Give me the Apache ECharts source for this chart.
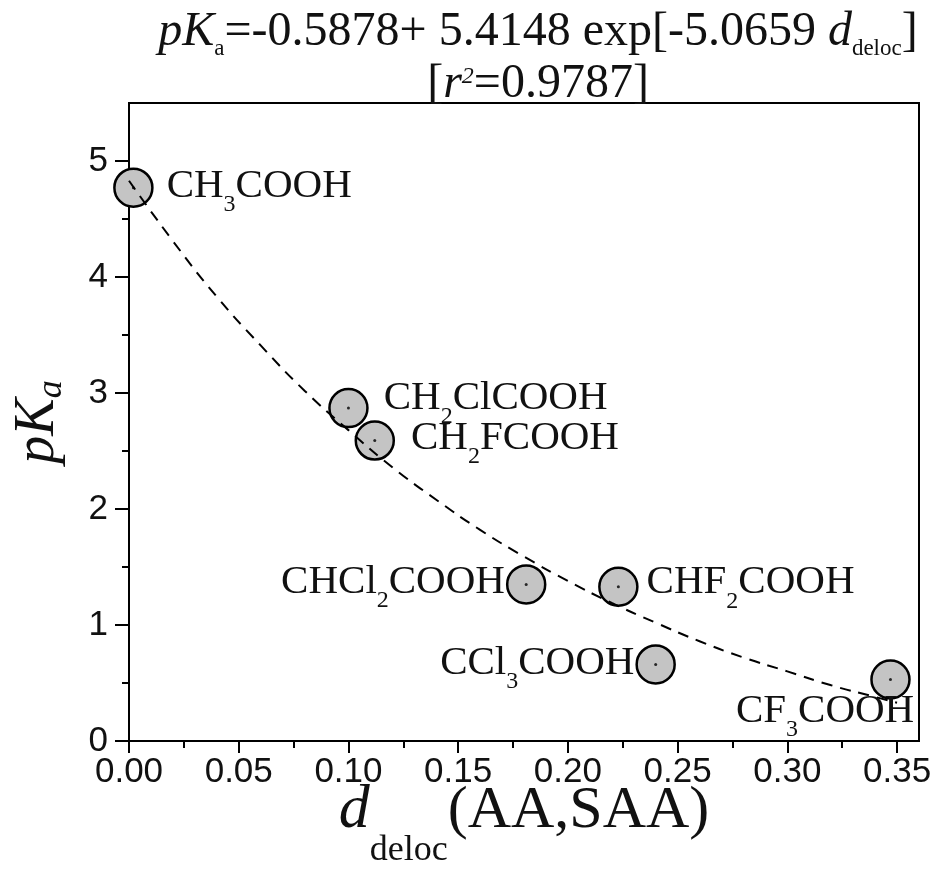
<!DOCTYPE html>
<html><head><meta charset="utf-8">
<script src="https://cdn.jsdelivr.net/npm/echarts@6/dist/echarts.min.js"></script>
<style>html,body{margin:0;padding:0;background:#fff}#c{width:937px;height:869px}</style>
</head><body><div id="c"></div>
<script>
// ---- data ----
const acids = ['CH3COOH','CH2ClCOOH','CH2FCOOH','CHCl2COOH','CHF2COOH','CCl3COOH','CF3COOH'];
const dDeloc = [0.002, 0.100, 0.112, 0.181, 0.223, 0.240, 0.347];
const pKaVals = [4.77, 2.87, 2.59, 1.35, 1.33, 0.66, 0.53];
// dashed fit curve
const fitX = [0, 0.02, 0.04, 0.06, 0.08, 0.10, 0.12, 0.14, 0.16, 0.18, 0.20, 0.22, 0.24, 0.26, 0.28, 0.30, 0.32, 0.34, 0.35];
const fitY = [4.83, 4.31, 3.83, 3.41, 3.02, 2.68, 2.36, 2.08, 1.82, 1.59, 1.38, 1.19, 1.02, 0.86, 0.72, 0.60, 0.48, 0.38, 0.33];
const xMajorTicks = [0, 0.05, 0.10, 0.15, 0.20, 0.25, 0.30, 0.35];
const xMinorTicks = [0.025, 0.075, 0.125, 0.175, 0.225, 0.275, 0.325];
const yMajorTicks = [0, 1, 2, 3, 4, 5];
const yMinorTicks = [0.5, 1.5, 2.5, 3.5, 4.5];

// ---- label placement (style, not data) ----
const labelPlace = {
  'CH3COOH':   {position: 'right', distance: 13, offset: [0, -1]},
  'CH2ClCOOH': {position: 'right', distance: 15, offset: [0, -10]},
  'CH2FCOOH':  {position: 'right', distance: 16, offset: [0, -2]},
  'CHCl2COOH': {position: 'left',  distance: 1,  offset: [0, -2]},
  'CHF2COOH':  {position: 'right', distance: 8,  offset: [0, -4]},
  'CCl3COOH':  {position: 'left',  distance: 1,  offset: [0, -1]},
  'CF3COOH':   {position: [44, 52], align: 'right', verticalAlign: 'middle'}
};

const SERIF = "'Liberation Serif','Times New Roman',serif";
const SANS = "'Liberation Sans',Arial,sans-serif";
const INK = '#111';

function toRich(name) {
  return name.replace(/([A-Za-z]+)|(\d+)/g, (m, a, d) => a ? '{m|' + a + '}' : '{s|' + d + '}');
}

const chart = echarts.init(document.getElementById('c'), null, {renderer: 'canvas'});

const axisCommon = {
  axisLine: {show: true, onZero: false, lineStyle: {color: '#000', width: 2}},
  splitLine: {show: false}
};

function ts(size, lh, extra) {
  return Object.assign({fontFamily: SERIF, fontSize: size, lineHeight: lh, fontWeight: 'normal', color: INK}, extra || {});
}

chart.setOption({
  backgroundColor: '#fff',
  animation: false,
  title: {
    left: 533, top: 1, textAlign: 'center',
    text: '{i|pK}{s|a}{n|=-0.5878+ 5.4148 exp[-5.0659 }{i|d}{s|deloc}{n|]}\n{n|[}{i|r}{sup|2}{n|=0.9787]}',
    textStyle: {
      fontWeight: 'normal',
      rich: {
        n: ts(48, 52),
        i: ts(48, 52, {fontStyle: 'italic'}),
        s: ts(23, 24, {padding: [33, 0, 0, 0]}),
        sup: ts(24, 24, {padding: [0, 0, 14, 0], fontStyle: 'italic'})
      }
    }
  },
  grid: {left: 129, right: 18, top: 103, bottom: 128, show: true, borderColor: '#000', borderWidth: 2,
    backgroundColor: 'transparent', containLabel: false, outerBoundsMode: 'none'},
  xAxis: [{
    type: 'value', min: 0, max: 0.36, interval: 0.05, position: 'bottom',
    ...axisCommon,
    axisTick: {show: true, inside: false, length: 12, lineStyle: {color: '#000', width: 2}, customValues: xMajorTicks},
    axisLabel: {customValues: xMajorTicks, fontFamily: SANS, fontSize: 35, color: INK, margin: 14,
      formatter: v => v.toFixed(2)},
    minorTick: {show: false},
    name: '{i|d}{s|deloc}{n|(AA,SAA)}',
    nameLocation: 'middle', nameGap: 38, nameMoveOverlap: false,
    nameTextStyle: {
      rich: {
        i: ts(62, 64, {fontStyle: 'italic'}),
        s: ts(36, 36, {padding: [80, 0, 0, 0]}),
        n: ts(60, 64)
      }
    }
  }, {
    type: 'value', min: 0, max: 0.36, position: 'bottom', gridIndex: 0,
    axisLine: {show: false}, splitLine: {show: false}, axisLabel: {show: false},
    axisTick: {show: true, inside: false, length: 7, lineStyle: {color: '#000', width: 2}, customValues: xMinorTicks}
  }],
  yAxis: [{
    type: 'value', min: 0, max: 5.5, interval: 1, position: 'left',
    ...axisCommon,
    axisTick: {show: true, inside: false, length: 14, lineStyle: {color: '#000', width: 2}, customValues: yMajorTicks},
    axisLabel: {customValues: yMajorTicks, fontFamily: SANS, fontSize: 35, color: INK, margin: 21},
    name: '{i|pK}{s|a}',
    nameLocation: 'middle', nameGap: 63, nameMoveOverlap: false,
    nameTextStyle: {
      rich: {
        i: ts(56, 56, {fontStyle: 'italic'}),
        s: ts(36, 36, {fontStyle: 'italic', padding: [28, 0, 0, 0]})
      }
    }
  }, {
    type: 'value', min: 0, max: 5.5, position: 'left', gridIndex: 0,
    axisLine: {show: false}, splitLine: {show: false}, axisLabel: {show: false},
    axisTick: {show: true, inside: false, length: 7, lineStyle: {color: '#000', width: 2}, customValues: yMinorTicks}
  }],
  series: [{
    type: 'scatter', xAxisIndex: 0, yAxisIndex: 0, z: 2, clip: true,
    symbol: 'circle', symbolSize: 38,
    itemStyle: {color: '#c4c4c4', borderColor: '#000', borderWidth: 2.5, opacity: 1},
    label: {
      show: true, color: INK,
      formatter: p => toRich(p.name),
      rich: {
        m: ts(41, 41),
        s: ts(24, 24, {padding: [37, 0, 0, 0]})
      }
    },
    emphasis: {disabled: true},
    data: acids.map((n, i) => ({name: n, value: [dDeloc[i], pKaVals[i]], label: labelPlace[n]}))
  }, {
    type: 'scatter', xAxisIndex: 0, yAxisIndex: 0, z: 3, silent: true,
    symbol: 'circle', symbolSize: 3,
    itemStyle: {color: '#000'},
    data: acids.map((n, i) => [dDeloc[i], pKaVals[i]])
  }, {
    type: 'line', xAxisIndex: 0, yAxisIndex: 0, z: 4, showSymbol: false, smooth: true, silent: true,
    lineStyle: {color: '#000', width: 2, type: [11, 8]},
    data: fitX.map((x, i) => [x, fitY[i]])
  }]
});
</script>
</body></html>
